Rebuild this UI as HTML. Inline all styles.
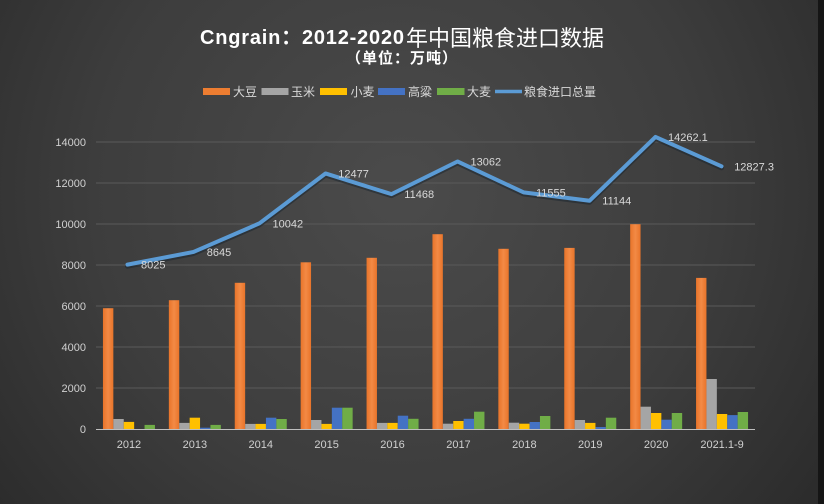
<!DOCTYPE html>
<html><head><meta charset="utf-8"><style>
html,body{margin:0;padding:0;background:#2b2b2b;}
svg{display:block;}
text{font-family:"Liberation Sans","Noto Sans CJK SC",sans-serif;}
</style></head><body>
<svg width="824" height="504" viewBox="0 0 824 504" xmlns="http://www.w3.org/2000/svg">
<defs>
<radialGradient id="bg" cx="400" cy="190" r="560" gradientUnits="userSpaceOnUse">
<stop offset="0" stop-color="#4b4b4b"/>
<stop offset="0.55" stop-color="#3d3d3d"/>
<stop offset="1" stop-color="#282828"/>
</radialGradient>
<linearGradient id="og" x1="0" y1="0" x2="1" y2="0">
<stop offset="0" stop-color="#e8742a"/><stop offset="0.5" stop-color="#f38a45"/><stop offset="1" stop-color="#e8742a"/>
</linearGradient>
</defs>
<rect width="824" height="504" fill="url(#bg)"/>
<rect x="818" y="0" width="6" height="504" fill="#151515"/>

<!-- Title -->
<text x="200" y="44" font-size="20" font-weight="bold" fill="#ffffff" letter-spacing="0.8">Cngrain：2012-2020</text>
<text x="406" y="46" font-size="22" fill="#ffffff" font-family="Noto Sans CJK SC, sans-serif">年中国粮食进口数据</text>
<text x="346" y="63" font-size="15" font-weight="bold" fill="#ffffff" letter-spacing="1" font-family="Noto Sans CJK SC, sans-serif">（单位：万吨）</text>

<!-- Legend -->
<g font-size="12" fill="#d9d9d9" font-family="Noto Sans CJK SC, sans-serif">
<rect x="203" y="88" width="27" height="7" fill="#ed7d31"/><text x="233" y="96">大豆</text>
<rect x="261.5" y="88" width="27" height="7" fill="#a5a5a5"/><text x="291" y="96">玉米</text>
<rect x="320" y="88" width="27" height="7" fill="#ffc000"/><text x="350.5" y="96">小麦</text>
<rect x="378" y="88" width="27" height="7" fill="#4472c4"/><text x="408" y="96">高粱</text>
<rect x="437" y="88" width="27.5" height="7" fill="#70ad47"/><text x="467" y="96">大麦</text>
<line x1="495" y1="91.5" x2="522" y2="91.5" stroke="#5b9bd5" stroke-width="3.5"/><text x="524" y="96">粮食进口总量</text>
</g>

<!-- Gridlines -->
<g stroke="#5a5a5a" stroke-width="1">
<line x1="96" y1="388" x2="755" y2="388"/>
<line x1="96" y1="347" x2="755" y2="347"/>
<line x1="96" y1="306" x2="755" y2="306"/>
<line x1="96" y1="265" x2="755" y2="265"/>
<line x1="96" y1="224" x2="755" y2="224"/>
<line x1="96" y1="183" x2="755" y2="183"/>
<line x1="96" y1="142" x2="755" y2="142"/>
</g>

<!-- Y labels -->
<g font-size="11" fill="#d0d0d0" text-anchor="end">
<text x="86" y="433">0</text>
<text x="86" y="392">2000</text>
<text x="86" y="351">4000</text>
<text x="86" y="310">6000</text>
<text x="86" y="269">8000</text>
<text x="86" y="228">10000</text>
<text x="86" y="187">12000</text>
<text x="86" y="146">14000</text>
</g>

<!-- Bars -->
<g>
<!-- 2012 -->
<rect x="102.95" y="308.2" width="10.4" height="120.8" fill="url(#og)"/>
<rect x="113.35" y="419" width="10.4" height="10" fill="#a5a5a5"/>
<rect x="123.75" y="421.9" width="10.4" height="7.1" fill="#ffc000"/>
<rect x="144.55" y="424.9" width="10.4" height="4.1" fill="#70ad47"/>
<!-- 2013 -->
<rect x="168.85" y="300.2" width="10.4" height="128.8" fill="url(#og)"/>
<rect x="179.25" y="422.9" width="10.4" height="6.1" fill="#a5a5a5"/>
<rect x="189.65" y="417.7" width="10.4" height="11.3" fill="#ffc000"/>
<rect x="200.05" y="427.7" width="10.4" height="1.3" fill="#4472c4"/>
<rect x="210.45" y="424.9" width="10.4" height="4.1" fill="#70ad47"/>
<!-- 2014 -->
<rect x="234.75" y="282.8" width="10.4" height="146.2" fill="url(#og)"/>
<rect x="245.15" y="423.9" width="10.4" height="5.1" fill="#a5a5a5"/>
<rect x="255.55" y="423.9" width="10.4" height="5.1" fill="#ffc000"/>
<rect x="265.95" y="417.7" width="10.4" height="11.3" fill="#4472c4"/>
<rect x="276.35" y="419" width="10.4" height="10" fill="#70ad47"/>
<!-- 2015 -->
<rect x="300.65" y="262.3" width="10.4" height="166.7" fill="url(#og)"/>
<rect x="311.05" y="420" width="10.4" height="9" fill="#a5a5a5"/>
<rect x="321.45" y="423.9" width="10.4" height="5.1" fill="#ffc000"/>
<rect x="331.85" y="407.7" width="10.4" height="21.3" fill="#4472c4"/>
<rect x="342.25" y="407.7" width="10.4" height="21.3" fill="#70ad47"/>
<!-- 2016 -->
<rect x="366.55" y="257.8" width="10.4" height="171.2" fill="url(#og)"/>
<rect x="376.95" y="422.9" width="10.4" height="6.1" fill="#a5a5a5"/>
<rect x="387.35" y="422.9" width="10.4" height="6.1" fill="#ffc000"/>
<rect x="397.75" y="415.7" width="10.4" height="13.3" fill="#4472c4"/>
<rect x="408.15" y="418.8" width="10.4" height="10.2" fill="#70ad47"/>
<!-- 2017 -->
<rect x="432.45" y="234.2" width="10.4" height="194.8" fill="url(#og)"/>
<rect x="442.85" y="423.7" width="10.4" height="5.3" fill="#a5a5a5"/>
<rect x="453.25" y="421" width="10.4" height="8" fill="#ffc000"/>
<rect x="463.65" y="418.8" width="10.4" height="10.2" fill="#4472c4"/>
<rect x="474.05" y="411.7" width="10.4" height="17.3" fill="#70ad47"/>
<!-- 2018 -->
<rect x="498.35" y="248.8" width="10.4" height="180.2" fill="url(#og)"/>
<rect x="508.75" y="422.7" width="10.4" height="6.3" fill="#a5a5a5"/>
<rect x="519.15" y="423.7" width="10.4" height="5.3" fill="#ffc000"/>
<rect x="529.55" y="422" width="10.4" height="7" fill="#4472c4"/>
<rect x="539.95" y="416" width="10.4" height="13" fill="#70ad47"/>
<!-- 2019 -->
<rect x="564.25" y="247.9" width="10.4" height="181.1" fill="url(#og)"/>
<rect x="574.65" y="420" width="10.4" height="9" fill="#a5a5a5"/>
<rect x="585.05" y="422.9" width="10.4" height="6.1" fill="#ffc000"/>
<rect x="595.45" y="427" width="10.4" height="2" fill="#4472c4"/>
<rect x="605.85" y="417.7" width="10.4" height="11.3" fill="#70ad47"/>
<!-- 2020 -->
<rect x="630.15" y="224.2" width="10.4" height="204.8" fill="url(#og)"/>
<rect x="640.55" y="406.7" width="10.4" height="22.3" fill="#a5a5a5"/>
<rect x="650.95" y="413" width="10.4" height="16" fill="#ffc000"/>
<rect x="661.35" y="419.7" width="10.4" height="9.3" fill="#4472c4"/>
<rect x="671.75" y="413" width="10.4" height="16" fill="#70ad47"/>
<!-- 2021 -->
<rect x="696.05" y="277.9" width="10.4" height="151.1" fill="url(#og)"/>
<rect x="706.45" y="379" width="10.4" height="50" fill="#a5a5a5"/>
<rect x="716.85" y="414" width="10.4" height="15" fill="#ffc000"/>
<rect x="727.25" y="415.1" width="10.4" height="13.9" fill="#4472c4"/>
<rect x="737.65" y="412" width="10.4" height="17" fill="#70ad47"/>
</g>

<!-- Axis -->
<line x1="96" y1="429.5" x2="755" y2="429.5" stroke="#bfbfbf" stroke-width="1"/>

<!-- X labels -->
<g font-size="11" fill="#d0d0d0" text-anchor="middle">
<text x="128.95" y="448">2012</text>
<text x="194.85" y="448">2013</text>
<text x="260.75" y="448">2014</text>
<text x="326.65" y="448">2015</text>
<text x="392.55" y="448">2016</text>
<text x="458.45" y="448">2017</text>
<text x="524.35" y="448">2018</text>
<text x="590.25" y="448">2019</text>
<text x="656.15" y="448">2020</text>
<text x="722.05" y="448">2021.1-9</text>
</g>

<!-- Line -->
<polyline points="127.5,266.2 193.5,253.5 259.5,224.8 325.5,175 391.5,195.6 457.5,163 523.5,193.9 589.5,202.3 655.5,138.4 721.5,167.8" fill="none" stroke="#1c2630" stroke-opacity="0.55" stroke-width="5" stroke-linejoin="round" stroke-linecap="round"/>
<polyline points="127.5,264.65 193.5,251.95 259.5,223.34 325.5,173.47 391.5,194.14 457.5,161.49 523.5,192.35 589.5,200.77 655.5,136.91 721.5,166.3" fill="none" stroke="#5b9bd5" stroke-width="4" stroke-linejoin="round" stroke-linecap="round"/>

<!-- Data labels -->
<g font-size="11" fill="#d9d9d9">
<text x="141" y="268.6">8025</text>
<text x="206.8" y="256">8645</text>
<text x="272.5" y="227.3">10042</text>
<text x="338.3" y="177.4">12477</text>
<text x="404.3" y="198.1">11468</text>
<text x="470.5" y="165.4">13062</text>
<text x="536" y="196.3">11555</text>
<text x="602.3" y="204.7">11144</text>
<text x="668" y="140.9">14262.1</text>
<text x="734.2" y="170.3">12827.3</text>
</g>
</svg>
</body></html>
